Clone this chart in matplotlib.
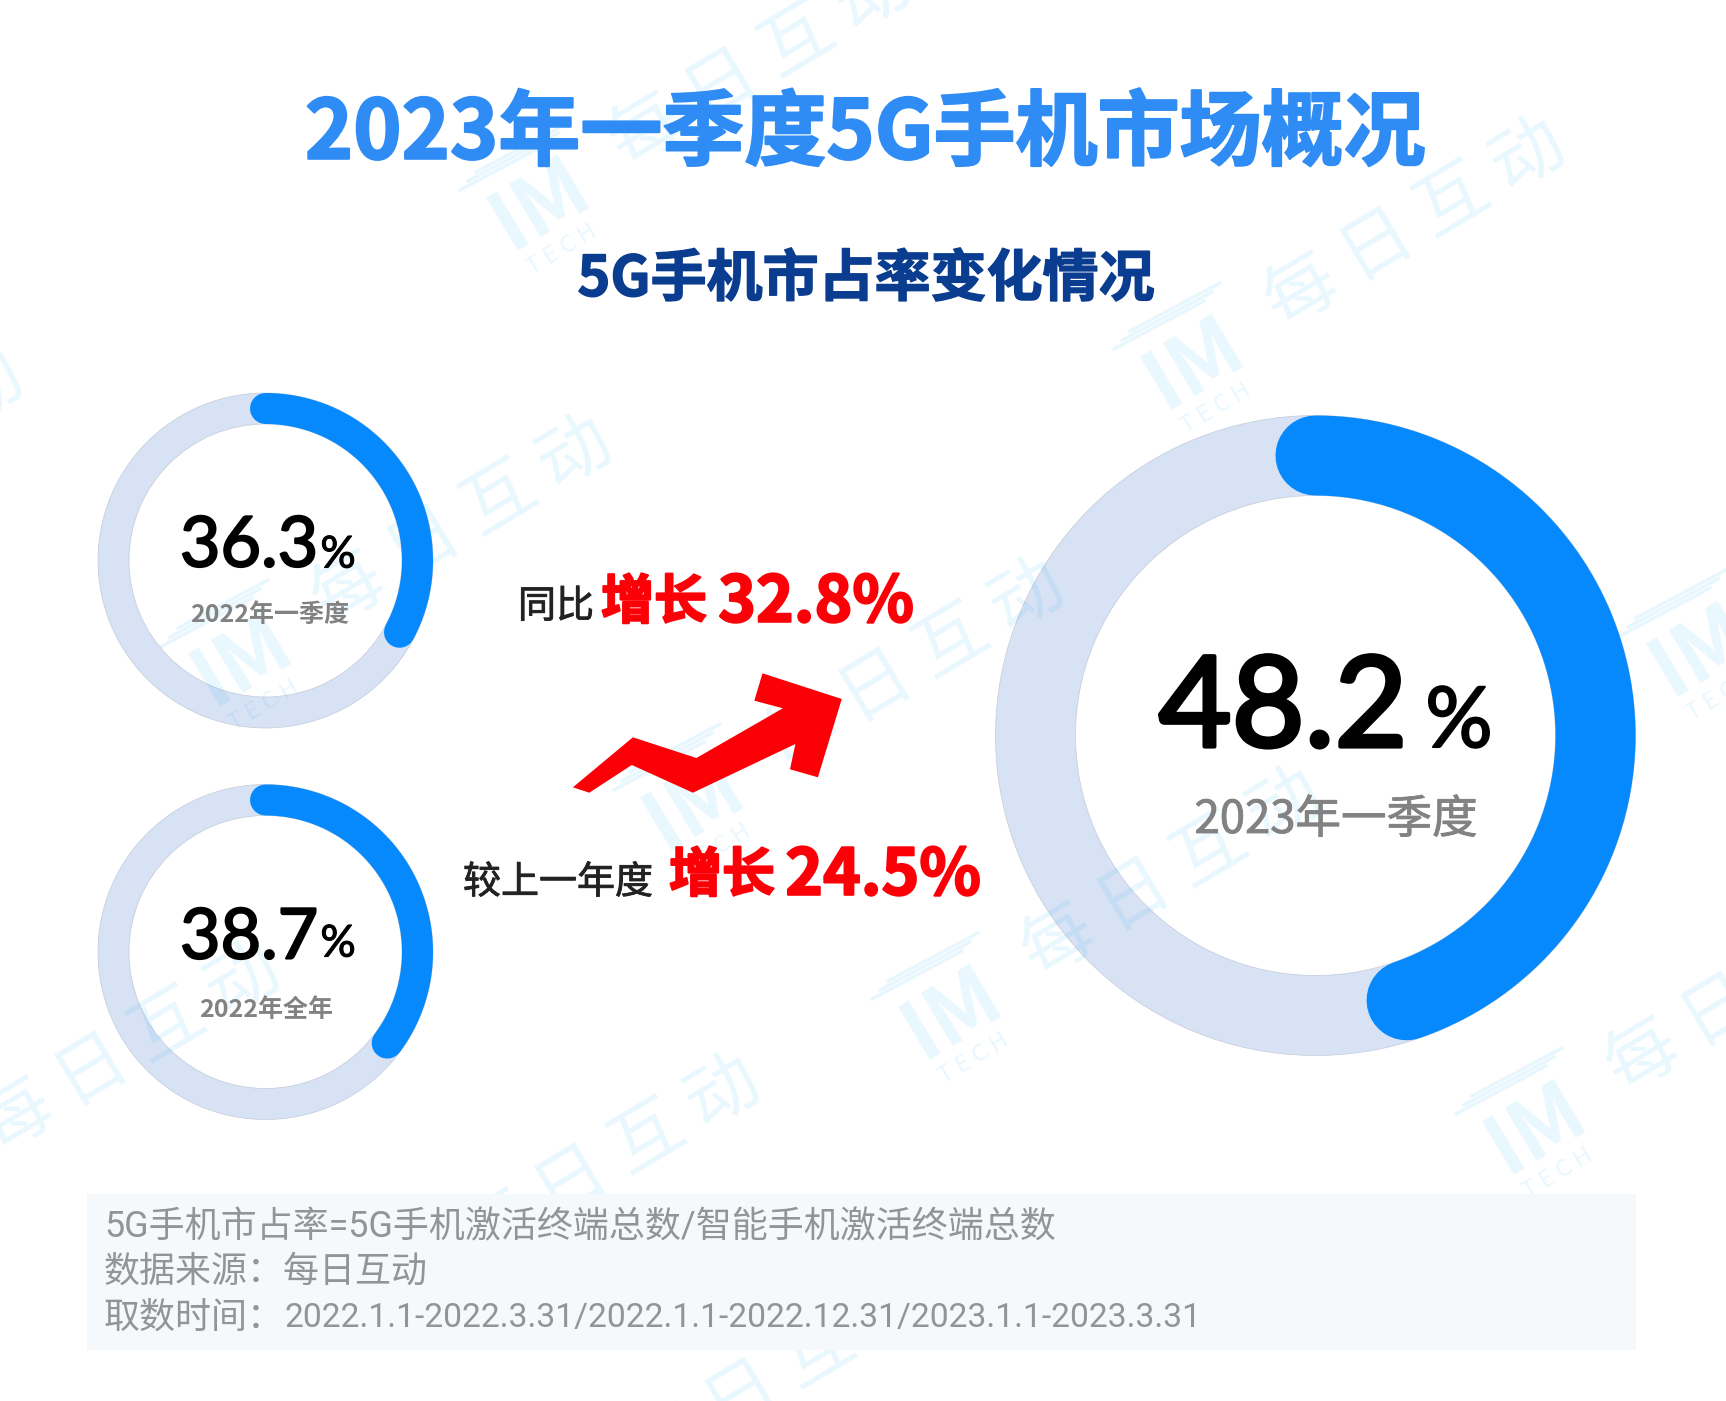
import matplotlib
matplotlib.use("Agg")
import matplotlib.pyplot as plt
import matplotlib.patheffects as pe
from matplotlib.patches import Polygon, Rectangle, Wedge
import numpy as np

CJK = ["Noto Sans CJK SC", "DejaVu Sans"]
plt.rcParams["font.family"] = CJK

# ring values
ring_labels = ["2022年一季度", "2022年全年", "2023年一季度"]
ring_values = [36.3, 38.7, 48.2]
growth_names = ["同比", "较上一年度"]
growth_values = [32.8, 24.5]
notes = [
    "5G手机市占率=5G手机激活终端总数/智能手机激活终端总数",
    "数据来源：每日互动",
    "取数时间：",
]
note_dates = "2022.1.1-2022.3.31/2022.1.1-2022.12.31/2023.1.1-2023.3.31"

W, H = 1726, 1401
fig = plt.figure(figsize=(W / 100, H / 100), dpi=100)
ax = fig.add_axes([0, 0, 1, 1])
ax.set_xlim(0, W)
ax.set_ylim(H, 0)
ax.axis("off")

MARK = "#23aff5"
TRACK = "#d7e2f4"
BLUE = "#0689fd"
RED = "#fb0006"
NUM_FONT = ["Lato", "DejaVu Sans"]
NOTE_FONT = ["Roboto", "Noto Sans CJK SC"]


def pt(px):
    # pixel size -> points at dpi 100
    return px * 0.72


def stroke(width, color):
    return [pe.withStroke(linewidth=width, foreground=color)]


def watermark_text(x, y):
    ax.text(x, y, "每 日 互 动", fontsize=pt(72), color=MARK, alpha=0.1, rotation=31, ha="center", va="center",
            rotation_mode="anchor", zorder=2.5)


def watermark_logo(x, y):
    ax.text(x, y, "IM", fontsize=pt(84), color=MARK, alpha=0.1, rotation=31, ha="center", va="center",
            rotation_mode="anchor", fontweight="bold", zorder=2.5)
    ax.text(x + 22, y + 46, "T E C H", fontsize=pt(24), color=MARK, alpha=0.1, rotation=31, ha="center", va="center",
            rotation_mode="anchor", zorder=2.5)
    # speed lines at the top left of the logo
    for k in range(3):
        x0, y0 = x - 80 + k * 8, y - 14 - k * 9
        ax.plot([x0, x0 + 90], [y0, y0 - 48], color=MARK, alpha=0.1, linewidth=2.5, zorder=2.5)


for x, y in [(760, 65), (1415, 225), (462, 523), (914, 666), (-127, 457), (130, 1050), (610, 1162),
             (780, 1376), (1172, 875), (1756, 990)]:
    watermark_text(x, y)
for x, y in [(540, 204), (1194, 363), (242, 660), (694, 804), (952, 1013), (1536, 1128), (1700, 650)]:
    watermark_logo(x, y)


def ring(cx, cy, r_out, width, value):
    ax.add_patch(Wedge((cx, cy), r_out, 0, 360, width=width, facecolor=TRACK, edgecolor="#c3cbd8",
                       linewidth=0.5, zorder=2))
    # arc runs clockwise from 12 o'clock, the round cap takes up the last bit of the sweep
    sweep = np.deg2rad(value * 3.6 - 12.5)
    t = np.linspace(0, sweep, 200)
    r = r_out - width / 2
    ax.plot(cx + r * np.sin(t), cy - r * np.cos(t), color=BLUE, linewidth=pt(width),
            solid_capstyle="round", zorder=3)


ring(265.5, 560.5, 167.5, 31, ring_values[0])
ring(265.5, 952, 167.5, 31, ring_values[1])
ring(1315.5, 735.5, 320, 80, ring_values[2])

# titles
ax.text(865, 135, "2023年一季度5G手机市场概况", fontsize=pt(82), color="#2f8cf4", fontweight="bold",
        ha="center", va="center", zorder=5, path_effects=stroke(1.5, "#2f8cf4"))
ax.text(866, 280, "5G手机市占率变化情况", fontsize=pt(56), color="#0a3d8f", fontweight="bold",
        ha="center", va="center", zorder=5, path_effects=stroke(1.0, "#0a3d8f"))

# small rings text
ax.text(249, 547, f"{ring_values[0]}", fontsize=pt(70), color="black", family=NUM_FONT,
        ha="center", va="center", zorder=5, path_effects=stroke(1.5, "black"))
ax.text(338, 555, "%", fontsize=pt(44), color="black", family=NUM_FONT, ha="center", va="center", zorder=5,
        path_effects=stroke(0.8, "black"))
ax.text(270, 615, ring_labels[0], fontsize=pt(25), color="#828282", fontweight="bold",
        ha="center", va="center", zorder=5)

ax.text(249, 939, f"{ring_values[1]}", fontsize=pt(70), color="black", family=NUM_FONT,
        ha="center", va="center", zorder=5, path_effects=stroke(1.5, "black"))
ax.text(338, 944, "%", fontsize=pt(44), color="black", family=NUM_FONT, ha="center", va="center", zorder=5,
        path_effects=stroke(0.8, "black"))
ax.text(266, 1010, ring_labels[1], fontsize=pt(25), color="#828282", fontweight="bold",
        ha="center", va="center", zorder=5)

# big ring text
ax.text(1283, 711, f"{ring_values[2]}", fontsize=pt(126), color="black", family=NUM_FONT,
        ha="center", va="center", zorder=5, path_effects=stroke(3.0, "black"))
ax.text(1459, 724, "%", fontsize=pt(84), color="black", family=NUM_FONT, ha="center", va="center", zorder=5,
        path_effects=stroke(1.5, "black"))
ax.text(1336, 820, ring_labels[2], fontsize=pt(45.5), color="#828282", ha="center", va="center", zorder=5,
        path_effects=stroke(0.6, "#828282"))

# growth labels
ax.text(556, 607, growth_names[0], fontsize=pt(38), color="#222222", ha="center", va="center", zorder=5,
        path_effects=stroke(0.6, "#222222"))
ax.text(654, 603, "增长", fontsize=pt(53), color=RED, fontweight="bold", ha="center", va="center", zorder=5,
        path_effects=stroke(1.5, RED))
ax.text(816, 603, f"{growth_values[0]}%", fontsize=pt(64), color=RED, fontweight="bold",
        ha="center", va="center", zorder=5, path_effects=stroke(1.5, RED))

ax.text(558, 883, growth_names[1], fontsize=pt(38), color="#222222", ha="center", va="center", zorder=5,
        path_effects=stroke(0.6, "#222222"))
ax.text(722, 876, "增长", fontsize=pt(53), color=RED, fontweight="bold", ha="center", va="center", zorder=5,
        path_effects=stroke(1.5, RED))
ax.text(883, 876, f"{growth_values[1]}%", fontsize=pt(64), color=RED, fontweight="bold",
        ha="center", va="center", zorder=5, path_effects=stroke(1.5, RED))

# arrow
arrow_x = [572.9, 632.9, 696.4, 782.9, 754.3, 762.5, 841.8, 817.9, 790, 795.4, 692.9, 631.8, 589.3]
arrow_y = [787.3, 737.3, 758, 708.3, 700.7, 673.3, 699, 777.3, 769.3, 744, 792.7, 765, 792.7]
ax.add_patch(Polygon(np.column_stack([arrow_x, arrow_y]), closed=True, facecolor=RED, edgecolor="none", zorder=4))

# footnote box
ax.add_patch(Rectangle((87, 1194), 1549, 156, facecolor="#f5f9fc", edgecolor="none", zorder=4))
for y, line in zip([1227, 1272, 1318], notes):
    ax.text(104, y, line, fontsize=pt(36), color="#949494", family=NOTE_FONT,
            ha="left", va="center", zorder=5)
# dates are set tighter in the reference
ax.text(284, 1318, note_dates, fontsize=pt(33.7), color="#949494", family=NOTE_FONT,
        ha="left", va="center", zorder=5)

fig.savefig("out.png", dpi=100, facecolor="white")
